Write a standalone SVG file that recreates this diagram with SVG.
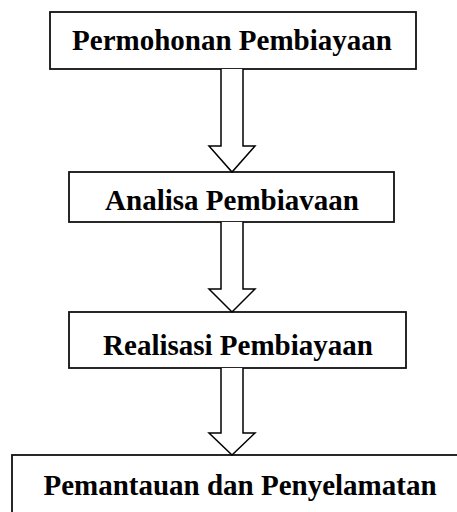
<svg xmlns="http://www.w3.org/2000/svg" width="457" height="512" viewBox="0 0 457 512">
<style>
.box{fill:#fff;stroke:#111;stroke-width:1.8}
.lbl{font-family:"Liberation Serif","Times New Roman",serif;font-weight:bold;font-size:29px;fill:#000;text-anchor:middle}
.arr{fill:#fff;stroke:#000;stroke-width:1.5;stroke-linejoin:miter}
</style>
<rect width="457" height="512" fill="#fff"/>
<g id="node1"><rect class="box" x="50" y="12" width="366" height="57"/><text class="lbl" x="232" y="50">Permohonan Pembiayaan</text></g>
<g id="node2"><rect class="box" x="69" y="172" width="325" height="50"/><text class="lbl" x="232" y="210">Analisa Pembiavaan</text></g>
<g id="node3"><rect class="box" x="69" y="312" width="337" height="56"/><text class="lbl" x="238" y="355">Realisasi Pembiayaan</text></g>
<g id="node4"><rect class="box" x="12" y="455" width="460" height="70"/><text class="lbl" x="240" y="495">Pemantauan dan Penyelamatan</text></g>
<g id="connectors">
<path class="arr" d="M221,69 V146 H209 L232,172 L255,146 H243 V69"/>
<path class="arr" d="M221,222 V289 H209 L232,312 L255,289 H243 V222"/>
<path class="arr" d="M221,368 V433 H209 L232,455 L255,433 H243 V368"/>
</g>
</svg>
